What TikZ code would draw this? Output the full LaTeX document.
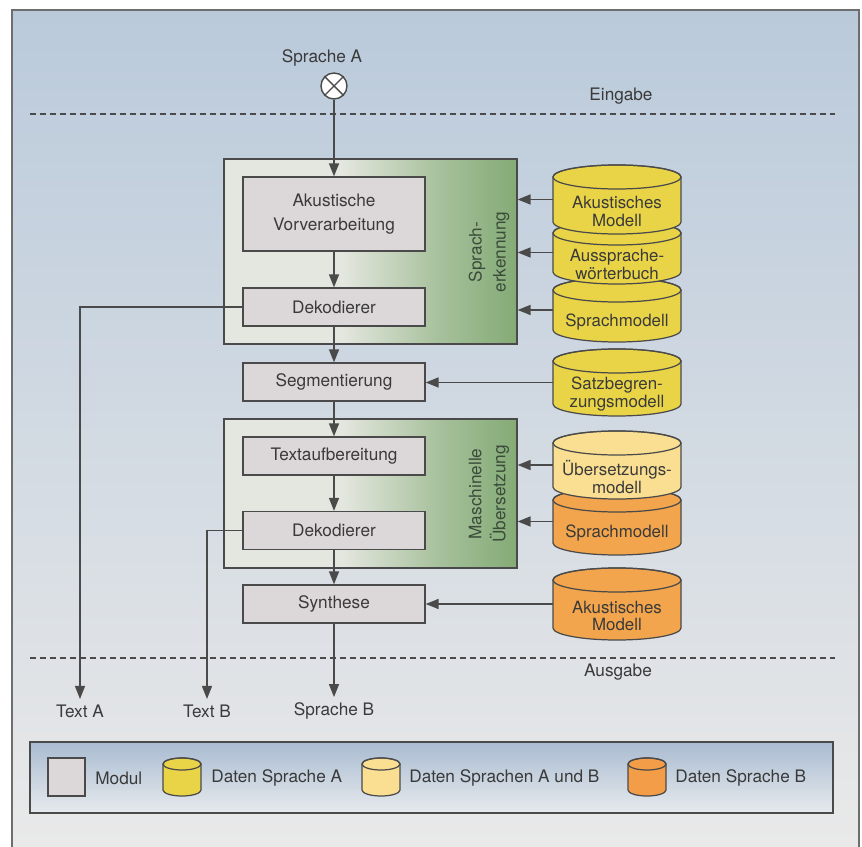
\documentclass[tikz,border=0pt]{standalone}
\usepackage{fontspec}
\setmainfont{TeX Gyre Heros}
\usepackage{xcolor}
\usepackage{tikz}
\usetikzlibrary{shapes.geometric, arrows.meta}
\definecolor{schrift}{HTML}{3A3A3A}
\definecolor{rand}{HTML}{4A4A4A}
\definecolor{modulgrau}{HTML}{DCD7D9}
\definecolor{gelb}{HTML}{E9D447}
\definecolor{hellgelb}{HTML}{FADF92}
\definecolor{orangeB}{HTML}{F2A54C}
\definecolor{gruen}{HTML}{84AB76}
\definecolor{gruppehell}{HTML}{E4E7DF}
\definecolor{gruentext}{HTML}{3B4B3A}
\definecolor{hgoben}{HTML}{BACADB}
\definecolor{hgunten}{HTML}{E9E9E9}
\definecolor{legoben}{HTML}{A9BCD1}
\definecolor{legunten}{HTML}{E7EAED}
\pgfdeclarehorizontalshading{gruppenverlauf}{100bp}{color(0bp)=(gruppehell); color(25bp)=(gruppehell); color(45bp)=(gruppehell); color(62bp)=(gruen!65!gruppehell); color(75bp)=(gruen); color(100bp)=(gruen)}
\newcommand{\grundfont}{\fontsize{9.8}{13.6}\selectfont}
\newcommand{\zylfont}{\fontsize{9.6}{10.2}\selectfont}
\tikzstyle{pfeil} = [draw=rand, line width=0.8pt, -{Triangle[length=2.6mm,width=2mm]}]
\tikzstyle{modul} = [draw=rand, line width=0.7pt, fill=modulgrau, minimum width=3.64cm, align=center]
\tikzstyle{gruppe} = [draw=rand, line width=0.7pt, shading=gruppenverlauf]
\tikzstyle{gruppentext} = [rotate=90, align=center, text=gruentext]
\tikzstyle{zylrand} = [draw=rand, line width=0.7pt]
\tikzstyle{zyltext} = [align=center, font=\zylfont]
\tikzstyle{trenn} = [draw=rand, line width=0.6pt, dash pattern=on 0.12cm off 0.08cm]
\newcommand{\zylinder}[8]{%
  \filldraw[zylrand, fill=#7] (#2-#5,#3) -- (#2-#5,#4)
    arc[start angle=180, end angle=360, x radius=#5*0.02cm, y radius=#6*0.02cm]
    -- (#2+#5,#3)
    arc[start angle=0, end angle=180, x radius=#5*0.02cm, y radius=#6*0.02cm] -- cycle;
  \draw[zylrand] (#2,#3) ellipse[x radius=#5*0.02cm, y radius=#6*0.02cm];
  \coordinate (#1-w) at (#2-#5,{(#3+#4)/2});
  \node[zyltext] (#1) at (#2,{(#3+#4)/2-#6}) {#8};
}

\begin{document}
\begin{tikzpicture}[x=0.02cm, y=0.02cm, every node/.style={font=\grundfont, text=schrift}]
            \useasboundingbox (0,0) rectangle (862,-847);
            \fill[white] (0,0) rectangle (862,-847);
            \shade[top color=hgoben, bottom color=hgunten] (12,-10) rectangle (859,-847);
            \draw[rand!80, line width=0.7pt] (12,-847) -- (12,-10) -- (859,-10) -- (859,-847);

            \draw[trenn] (30,-114) -- (835,-114);
            \draw[trenn] (30,-658) -- (835,-658);
            \node (eingabe) at (621,-96) {Eingabe};
            \node (ausgabe) at (618,-672) {Ausgabe};

            \node[gruppe, minimum width=5.86cm, minimum height=3.7cm] (erkennung) at (370.5,-251.5) {};
            \node[gruppe, minimum width=5.86cm, minimum height=2.98cm] (uebersetzung) at (370.5,-493.5) {};
            \node[gruppentext] at (489,-252) {Sprach-\\erkennung};
            \node[gruppentext] at (489,-494) {Maschinelle\\Übersetzung};

            \node (spra) at (322,-58) {Sprache A};
            \node[circle, draw=rand, line width=0.8pt, fill=white, minimum size=0.52cm, inner sep=0pt] (quelle) at (334,-86) {};
            \draw[rand, line width=0.8pt] (quelle.north west) -- (quelle.south east);
            \draw[rand, line width=0.8pt] (quelle.north east) -- (quelle.south west);

            \node[modul, minimum height=1.48cm] (akust) at (334,-214) {Akustische\\Vorverarbeitung};
            \node[modul, minimum height=0.76cm] (dek1) at (334,-307) {Dekodierer};
            \node[modul, minimum height=0.76cm] (seg) at (334,-382) {Segmentierung};
            \node[modul, minimum height=0.76cm] (textauf) at (334,-456) {Textaufbereitung};
            \node[modul, minimum height=0.76cm] (dek2) at (334,-530.5) {Dekodierer};
            \node[modul, minimum height=0.76cm] (synth) at (334,-604) {Synthese};

            \node[inner sep=3pt] (texta) at (80,-711) {Text A};
            \node[inner sep=3pt] (textb) at (207,-711) {Text B};
            \node[inner sep=3pt] (sprb) at (334,-711) {Sprache B};

            \draw[pfeil] (quelle) -- (akust);
            \draw[pfeil] (akust) -- (dek1);
            \draw[pfeil] (dek1) -- (seg);
            \draw[pfeil] (seg) -- (textauf);
            \draw[pfeil] (textauf) -- (dek2);
            \draw[pfeil] (dek2) -- (synth);
            \draw[pfeil] (synth) -- (sprb);
            \draw[pfeil] (dek1.west) -| (texta);
            \draw[pfeil] (dek2.west) -| (textb);

            \zylinder{sprmodA}{617}{-290}{-330}{64}{12}{gelb}{Sprachmodell}
            \zylinder{aussp}{617}{-233}{-272}{64}{12}{gelb}{Aussprache-\\wörterbuch}
            \zylinder{akmodA}{617}{-177}{-222}{64}{12}{gelb}{Akustisches\\Modell}
            \zylinder{satz}{617}{-361}{-404}{64}{12}{gelb}{Satzbegren-\\zungsmodell}
            \zylinder{sprmodB}{617}{-500}{-543}{64}{12}{orangeB}{Sprachmodell}
            \zylinder{uebers}{617}{-443}{-487}{64}{12}{hellgelb}{Übersetzungs-\\modell}
            \zylinder{akmodB}{617}{-580}{-628}{64}{12}{orangeB}{Akustisches\\Modell}

            \draw[pfeil] (akmodA-w) -- (erkennung.east |- akmodA-w);
            \draw[pfeil] (aussp-w) -- (erkennung.east |- aussp-w);
            \draw[pfeil] (sprmodA-w) -- (erkennung.east |- sprmodA-w);
            \draw[pfeil] (satz-w) -- (seg.east |- satz-w);
            \draw[pfeil] (uebers-w) -- (uebersetzung.east |- uebers-w);
            \draw[pfeil] (sprmodB-w) -- (uebersetzung.east |- sprmodB-w);
            \draw[pfeil] (akmodB-w) -- (synth.east |- akmodB-w);

            \shade[top color=legoben, bottom color=legunten, draw=rand, line width=0.7pt] (30,-742) rectangle (833,-813);
            \node[modul, minimum width=0.74cm, minimum height=0.76cm] (legmodul) at (66.5,-777) {};
            \zylinder{leggelb}{182}{-764}{-790}{19}{6}{gelb}{}
            \zylinder{leghell}{381}{-764}{-790}{19}{6}{hellgelb}{}
            \zylinder{legorange}{647}{-764}{-790}{19}{6}{orangeB!95!red}{}
            \node[anchor=west, inner sep=0pt] (legtext1) at (95,-778) {Modul};
            \node[anchor=west, inner sep=0pt] (legtext2) at (211,-778) {Daten Sprache A};
            \node[anchor=west, inner sep=0pt] (legtext3) at (409,-778) {Daten Sprachen A und B};
            \node[anchor=west, inner sep=0pt] (legtext4) at (675,-778) {Daten Sprache B};
        \end{tikzpicture}
\end{document}
